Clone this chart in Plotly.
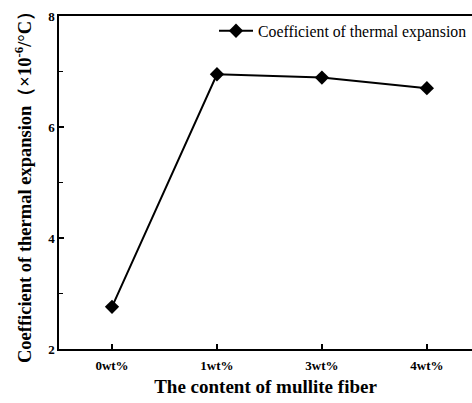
import plotly.graph_objects as go

categories = ["0wt%", "1wt%", "3wt%", "4wt%"]
cte_values = [2.76, 6.95, 6.89, 6.70]

SERIF = "Liberation Serif"

fig = go.Figure()
fig.add_trace(go.Scatter(
    x=categories, y=cte_values, mode="lines+markers",
    name="Coefficient of thermal expansion",
    line=dict(color="black", width=2),
    marker=dict(symbol="diamond", size=11, color="black"),
))

fig.update_layout(
    width=472, height=403,
    margin=dict(l=59, r=0, t=16, b=54),
    paper_bgcolor="white", plot_bgcolor="white",
    font=dict(family=SERIF, color="black"),
    showlegend=True,
    legend=dict(x=1.0, y=0.955, xanchor="right", yanchor="middle",
                bgcolor="rgba(0,0,0,0)", borderwidth=0, itemwidth=34,
                font=dict(family=SERIF, size=15.8, color="black")),
    xaxis=dict(
        type="category", range=[-0.505, 3.43],
        showline=True, linecolor="black", linewidth=1.5, mirror=True,
        ticks="inside", ticklen=5, tickwidth=1.5, tickcolor="black",
        ticklabelstandoff=4,
        showgrid=False, zeroline=False,
        tickfont=dict(family=SERIF, size=13, color="black", weight="bold"),
        title=dict(text="<b>The content of mullite fiber</b>",
                   font=dict(family=SERIF, size=19, color="black"), standoff=7),
    ),
    yaxis=dict(
        range=[2, 8], dtick=2, tick0=2,
        showline=True, linecolor="black", linewidth=1.5, mirror=False,
        ticks="inside", ticklen=5, tickwidth=1.5, tickcolor="black",
        minor=dict(ticks="inside", dtick=1, tick0=2, ticklen=4, tickwidth=1.2, tickcolor="black"),
        showgrid=False, zeroline=False,
        tickfont=dict(family=SERIF, size=13, color="black", weight="bold"),
        title=dict(text="<b>Coefficient of thermal expansion（×10<sup>-6</sup>/°C）</b>",
                   font=dict(family=SERIF, size=18.5, color="black"), standoff=12),
    ),
)

fig.write_html("out.html")
